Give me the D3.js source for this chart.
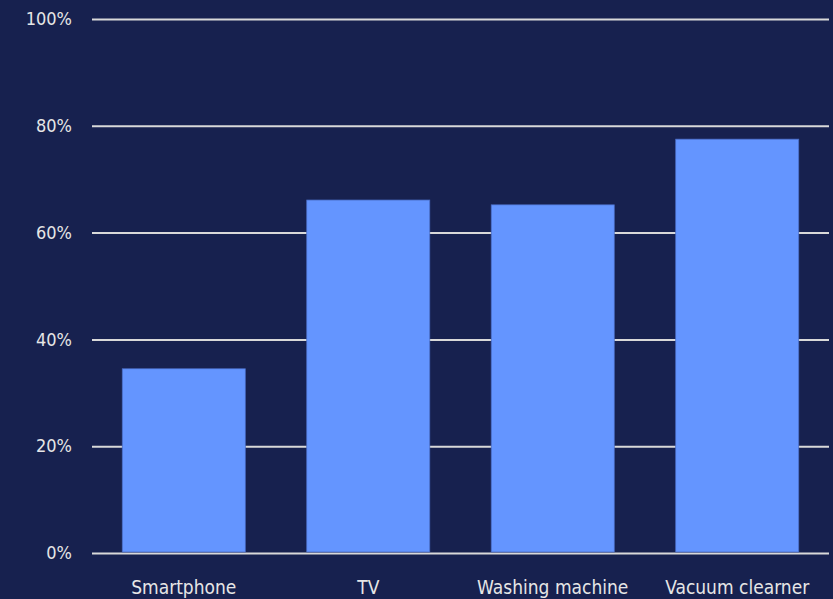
<!DOCTYPE html>
<html><head><meta charset="utf-8">
<script src="https://cdn.jsdelivr.net/npm/d3@7"></script>
<style>
html,body{margin:0;padding:0;background:#17214F;}
text{font-family:"Liberation Sans Narrow","DejaVu Sans Condensed","Roboto Condensed",sans-serif;}
</style></head>
<body>
<svg id="c" width="833" height="599"></svg>
<script>
const categories = ["Smartphone", "TV", "Washing machine", "Vacuum clearner"];
const values = [0.345, 0.661, 0.652, 0.775];
const yTicks = [0, 0.2, 0.4, 0.6, 0.8, 1.0];

const svg = d3.select("#c");
svg.append("rect").attr("width", 833).attr("height", 599).attr("fill", "#17214F");

const x = d3.scaleBand().domain(categories).range([92, 829]).paddingInner(0.333).paddingOuter(0.164);
const y = d3.scaleLinear().domain([0, 1]).range([553, 19]);

// gridlines
const yAxis = d3.axisLeft(y).tickValues(yTicks).tickFormat(d3.format(".0%")).tickSize(-(829 - 92)).tickPadding(20);
const gy = svg.append("g").attr("transform", "translate(92,0)").call(yAxis);
gy.select(".domain").remove();
gy.selectAll(".tick line").attr("stroke", "#D9D9D9").attr("stroke-width", 2);
gy.selectAll(".tick text").attr("fill", "#E6E6E6").attr("font-size", 18).attr("x", -20);

// bars
svg.append("g").selectAll("rect").data(categories).join("rect")
  .attr("x", d => x(d))
  .attr("width", x.bandwidth())
  .attr("y", (d, i) => y(values[i]))
  .attr("height", (d, i) => y(0) - y(values[i]) - 1)
  .attr("fill", "#6495FF")
  .attr("stroke", "#4A6CC4")
  .attr("stroke-width", 0.75);

// x labels
const xAxis = d3.axisBottom(x).tickSize(0).tickPadding(0);
const gx = svg.append("g").attr("transform", "translate(0,553)").call(xAxis);
gx.select(".domain").remove();
gx.selectAll(".tick text").attr("fill", "#E6E6E6").attr("font-size", 19).attr("dy", null).attr("y", 41);
</script>
</body></html>
